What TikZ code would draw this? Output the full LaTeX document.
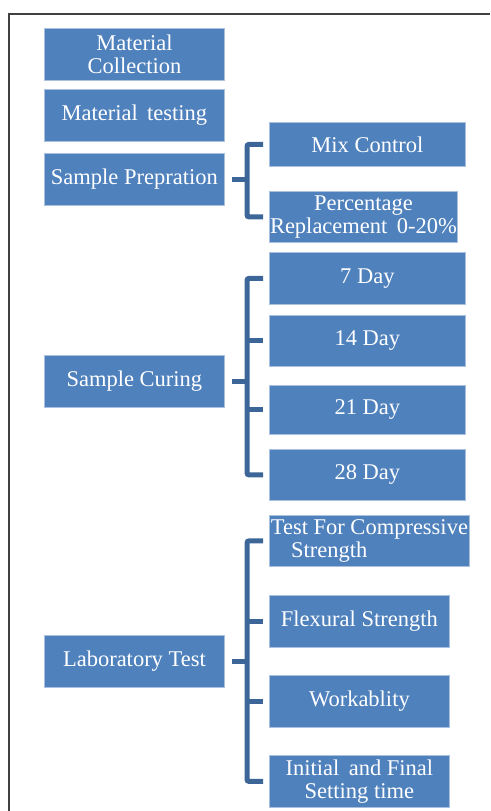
\documentclass[tikz,border=0pt]{standalone}
\usepackage{fontspec}
\setmainfont{Liberation Serif}
\newfontfamily\boxfont{Liberation Serif}
\usepackage{xcolor}
\usepackage{tikz}
\usetikzlibrary{positioning}
\definecolor{BoxBlue}{HTML}{4F81BD}
\definecolor{EdgeBlue}{HTML}{A9C0DE}
\definecolor{BraceBlue}{HTML}{3D6698}
\definecolor{FrameGray}{HTML}{404040}

\begin{document}
\begin{tikzpicture}[
    x=1pt, y=-1pt,
    font=\boxfont\fontsize{22.5}{23}\selectfont,
    stage/.style={rectangle, draw=EdgeBlue, line width=0.8pt, fill=BoxBlue, text=white, align=center, inner sep=0pt, anchor=north west, minimum width=180pt, minimum height=52pt},
    brace/.style={line width=5pt, draw=BraceBlue, rounded corners=2pt},
    frame/.style={line width=2pt, draw=FrameGray}
]
\useasboundingbox (0,0) rectangle (490,811);
\draw[frame] (490,14) -| (9,811);

% main steps
\node[stage] (mc) at (44,28) {Material\\Collection};
\node[stage, below=8pt of mc] (mt) {Material\, testing};
\node[stage, below=11pt of mt] (sp) {Sample Prepration};
\node[stage] (sc) at (44,355) {Sample Curing};
\node[stage] (lt) at (44,635) {Laboratory Test};

% sample preparation
\node[stage, minimum width=196pt, minimum height=44pt] (mix) at (269,122) {Mix Control};
\node[stage, minimum width=188pt, minimum height=51pt] (pct) at (269,191) {Percentage\\Replacement\, 0-20\%};

% curing ages
\node[stage, minimum width=196pt] (d7) at (269,252) {7 Day};
\node[stage, minimum width=196pt, minimum height=51pt] (d14) at (269,315) {14 Day};
\node[stage, minimum width=196pt, minimum height=49pt] (d21) at (269,385) {21 Day};
\node[stage, minimum width=196pt, minimum height=51pt] (d28) at (269,449) {28 Day};

% tests
\node[stage, minimum width=200pt, minimum height=51pt, align=left] (cmp) at (269,515) {Test For Compressive\\\hspace{0.9em}Strength};
\node[stage] (flx) at (269,595) {Flexural Strength};
\node[stage] (wrk) at (269,675) {Workablity};
\node[stage] (ini) at (269,755) {Initial\, and Final\\Setting time};

% brackets
\draw[brace] ([xshift=7pt]sp.east) -- ++(17,0);
\draw[brace] ([xshift=-6pt]mix.west) -- ++(-16,0) |- ([xshift=-6pt]pct.west);

\draw[brace] ([xshift=7pt]sc.east) -- ++(17,0);
\draw[brace] ([xshift=-6pt]d7.west) -- ++(-16,0) |- ([xshift=-6pt]d28.west);
\draw[brace] ([xshift=-6pt]d14.west) -- ++(-16,0);
\draw[brace] ([xshift=-6pt]d21.west) -- ++(-16,0);

\draw[brace] ([xshift=7pt]lt.east) -- ++(17,0);
\draw[brace] ([xshift=-6pt]cmp.west) -- ++(-16,0) |- ([xshift=-6pt]ini.west);
\draw[brace] ([xshift=-6pt]flx.west) -- ++(-16,0);
\draw[brace] ([xshift=-6pt]wrk.west) -- ++(-16,0);
\end{tikzpicture}
\end{document}
